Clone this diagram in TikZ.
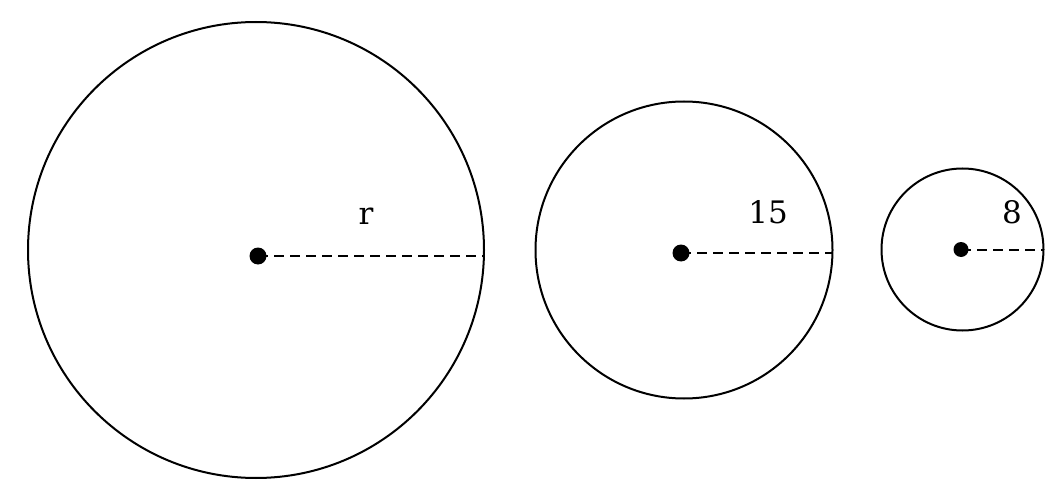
\documentclass[tikz,border=0pt]{standalone}
\usepackage{fontspec}
\setmainfont{DejaVu Serif}
\begin{document}
\begin{tikzpicture}[x=1pt,y=-1pt,
  circ/.style={draw, line width=2pt},
  rad/.style={draw, line width=2pt, dash pattern=on 10pt off 6pt},
  lab/.style={font=\fontsize{31}{36}\selectfont, anchor=base, inner sep=0pt}]
\useasboundingbox[fill=white] (0,0) rectangle (1050,492);
% circle 1
\coordinate (o1) at (256,250);
\coordinate (c1) at (258,256);
\coordinate (e1) at (484,256);
\draw[circ] (o1) circle (228pt);
\draw[rad] (c1) -- (e1);
\fill (c1) circle (8.5pt);
\node[lab] (r1) at (366,224) {r};
% circle 2
\coordinate (o2) at (684,250);
\coordinate (c2) at (681,253);
\coordinate (e2) at (832,253);
\draw[circ] (o2) circle (148.5pt);
\draw[rad] (c2) -- (e2);
\fill (c2) circle (8.5pt);
\node[lab] (r2) at (768,223.5) {15};
% circle 3
\coordinate (o3) at (962.5,249.5);
\coordinate (c3) at (961,249.5);
\coordinate (e3) at (1043,249.5);
\draw[circ] (o3) circle (81pt);
\draw[rad] (c3) -- (e3);
\fill (c3) circle (7.5pt);
\node[lab] (r3) at (1012,223.5) {8};
\end{tikzpicture}
\end{document}
